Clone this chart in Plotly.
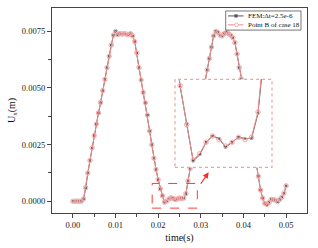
import plotly.graph_objects as go

# ---------------- data ----------------
time_s = [round(i * 0.0005, 4) for i in range(101)]

ux_fem = [
    0.0, 0.0, 0.0, 0.0, 0.0, 0.0001, 0.00058, 0.00125, 0.0018, 0.00235,
    0.0029, 0.0034, 0.0039, 0.00435, 0.00488, 0.00538, 0.0059, 0.0064, 0.0069, 0.00732,
    0.0075, 0.00735, 0.0074, 0.00738, 0.0074, 0.00737, 0.00735, 0.0074, 0.0073, 0.00705,
    0.00655, 0.0059, 0.00535, 0.0048, 0.00435, 0.0038, 0.0031, 0.0025, 0.0019, 0.0014,
    0.00095, 0.00054, 0.00025, -0.00005, 0.0, 0.0001, 0.00015, 0.00013, 0.00006, 0.0001,
    0.00014, 0.00013, 0.00013, 0.00033, 0.0009, 0.00145, 0.002, 0.00255, 0.0031, 0.00365,
    0.0042, 0.0048, 0.0053, 0.0058, 0.0063, 0.0068, 0.0073, 0.0075, 0.00746, 0.00733,
    0.00729, 0.0074, 0.00747, 0.0074, 0.00732, 0.00722, 0.0070, 0.0065, 0.0059, 0.0054,
    0.0049, 0.0044, 0.0039, 0.0034, 0.0028, 0.0022, 0.0016, 0.0011, 0.0005, 0.00014,
    -0.0001, -0.00015, -0.00005, 0.00008, 0.00007, 0.00005, -0.00002, 0.00008, 0.00018, 0.00035,
    0.00068,
]

ux_case18 = [
    0.0, 0.0, 0.0, 0.0, 0.0, 0.0001, 0.0006, 0.00124, 0.0018, 0.00236,
    0.0029, 0.0034, 0.0039, 0.00436, 0.00488, 0.00538, 0.0059, 0.0064, 0.0069, 0.00733,
    0.0075, 0.00736, 0.0074, 0.00738, 0.0074, 0.00738, 0.00735, 0.0074, 0.0073, 0.00705,
    0.00655, 0.0059, 0.00535, 0.0048, 0.00435, 0.0038, 0.0031, 0.0025, 0.0019, 0.0014,
    0.00095, 0.00055, 0.00024, -0.00004, 0.00001, 0.0001, 0.00015, 0.00012, 0.00007, 0.0001,
    0.00014, 0.00012, 0.00014, 0.00034, 0.0009, 0.00145, 0.002, 0.00255, 0.0031, 0.00365,
    0.0042, 0.0048, 0.0053, 0.0058, 0.0063, 0.0068, 0.0073, 0.0075, 0.00745, 0.00734,
    0.0073, 0.0074, 0.00746, 0.0074, 0.00733, 0.00722, 0.0070, 0.0065, 0.0059, 0.0054,
    0.0049, 0.0044, 0.0039, 0.0034, 0.0028, 0.0022, 0.0016, 0.0011, 0.0005, 0.00014,
    -0.0001, -0.00014, -0.00005, 0.00008, 0.00007, 0.00005, -0.00002, 0.00008, 0.00018, 0.00036,
    0.00068,
]

series_names = ["FEM:Δt=2.5e-6", "Point B of case 18"]
x_tick_vals = [0.0, 0.01, 0.02, 0.03, 0.04, 0.05]
x_tick_text = ["0.00", "0.01", "0.02", "0.03", "0.04", "0.05"]
y_tick_vals = [0.0, 0.0025, 0.005, 0.0075]
y_tick_text = ["0.0000", "0.0025", "0.0050", "0.0075"]

# zoom window (main axes) and inset view ranges
zoom_t = [0.01859, 0.02918]
zoom_u = [-0.000305, 0.000785]
inset_t = [0.0201, 0.02758]
inset_u = [-0.0001, 0.0006]

# ---------------- styling ----------------
W, H = 318, 248
ML, MR, MT, MB = 52, 11, 7, 34
PW, PH = W - ML - MR, H - MT - MB
FONT = "Liberation Serif, DejaVu Serif, serif"
GRAY = "#555555"
PINK = "#f08a8a"
PINK_M = "#f4a8a8"


def px(x):
    return (x - ML) / PW


def py(y):
    return (H - MB - y) / PH


fig = go.Figure()

for xa, ya in [("x", "y"), ("x2", "y2")]:
    fig.add_trace(go.Scatter(
        x=time_s, y=ux_fem, xaxis=xa, yaxis=ya, mode="lines+markers",
        name=series_names[0], showlegend=False,
        line=dict(color=GRAY, width=1),
        marker=dict(symbol="square", size=2.4, color=GRAY),
    ))
    fig.add_trace(go.Scatter(
        x=time_s, y=ux_case18, xaxis=xa, yaxis=ya, mode="lines+markers",
        name=series_names[1], showlegend=False,
        line=dict(color=PINK, width=1),
        marker=dict(symbol="circle-open", size=4.4, color=PINK_M, line=dict(width=1, color=PINK_M)),
    ))

axis_common = dict(
    showline=True, mirror=True, linecolor="#444", linewidth=1.2,
    ticks="outside", ticklen=4, tickwidth=1, tickcolor="#444",
    showgrid=False, zeroline=False,
    tickfont=dict(family=FONT, size=8.5, color="#222"),
)

fig.update_layout(
    width=W, height=H,
    margin=dict(l=ML, r=MR, t=MT, b=MB),
    paper_bgcolor="white", plot_bgcolor="white",
    showlegend=False,
    xaxis=dict(
        range=[-0.0049, 0.0549], tickvals=x_tick_vals, ticktext=x_tick_text,
        minor=dict(dtick=0.005, tick0=0, ticks="outside", ticklen=2.5, tickcolor="#444"),
        title=dict(text="time(s)", font=dict(family=FONT, size=10, color="#111"), standoff=4),
        **axis_common,
    ),
    yaxis=dict(
        range=[-0.00052, 0.00853], tickvals=y_tick_vals, ticktext=y_tick_text,
        minor=dict(dtick=0.00125, tick0=0, ticks="outside", ticklen=2.5, tickcolor="#444"),
        title=dict(text="U<sub>x</sub>(m)", font=dict(family=FONT, size=10, color="#111"), standoff=4),
        **axis_common,
    ),
    xaxis2=dict(domain=[px(175), px(272)], range=inset_t, visible=False, anchor="y2"),
    yaxis2=dict(domain=[py(168), py(79)], range=inset_u, visible=False, anchor="x2"),
)

shapes = [
    # zoom window on main axes
    dict(type="rect", xref="x", yref="y", x0=zoom_t[0], x1=zoom_t[1], y0=zoom_u[0], y1=zoom_u[1],
         line=dict(color="#ff3b3b", width=1, dash="dash")),
    # inset border
    dict(type="rect", xref="x2 domain", yref="y2 domain", x0=0, x1=1, y0=0, y1=1,
         line=dict(color="#f4a0a0", width=1.2, dash="dot")),
    # legend box
    dict(type="rect", xref="paper", yref="paper", x0=px(225.7), x1=px(301), y0=py(29.3), y1=py(10),
         line=dict(color="#555", width=0.8), fillcolor="white", layer="above"),
    # legend line samples
    dict(type="line", xref="paper", yref="paper", x0=px(228), x1=px(243.5), y0=py(15), y1=py(15),
         line=dict(color=GRAY, width=1), layer="above"),
    dict(type="line", xref="paper", yref="paper", x0=px(228), x1=px(243.5), y0=py(24), y1=py(24),
         line=dict(color=PINK, width=1), layer="above"),
    # legend symbol samples
    dict(type="rect", xref="paper", yref="paper", x0=px(234.7), x1=px(237.3), y0=py(16.3), y1=py(13.7),
         line=dict(color=GRAY, width=0.5), fillcolor=GRAY, layer="above"),
    dict(type="circle", xref="paper", yref="paper", x0=px(234.6), x1=px(238.4), y0=py(25.9), y1=py(22.1),
         line=dict(color=PINK_M, width=0.9), fillcolor="white", layer="above"),
]
fig.update_layout(shapes=shapes)

annotations = [
    dict(xref="paper", yref="paper", x=px(245.5), y=py(15), text=series_names[0], showarrow=False,
         xanchor="left", yanchor="middle", font=dict(family=FONT, size=7, color="#111")),
    dict(xref="paper", yref="paper", x=px(245.5), y=py(24), text=series_names[1], showarrow=False,
         xanchor="left", yanchor="middle", font=dict(family=FONT, size=7, color="#111")),
    # arrow from zoom window to inset
    dict(xref="x", yref="y", x=0.03184, y=0.00128, ax=-9, ay=13, text="", showarrow=True,
         arrowhead=2, arrowsize=1, arrowwidth=1.2, arrowcolor="#ff2a2a"),
]
fig.update_layout(annotations=annotations)

fig.write_html(
    "out.html",
    config={"displayModeBar": False},
    post_script="document.body.style.margin='0';document.body.style.overflow='hidden';",
)
